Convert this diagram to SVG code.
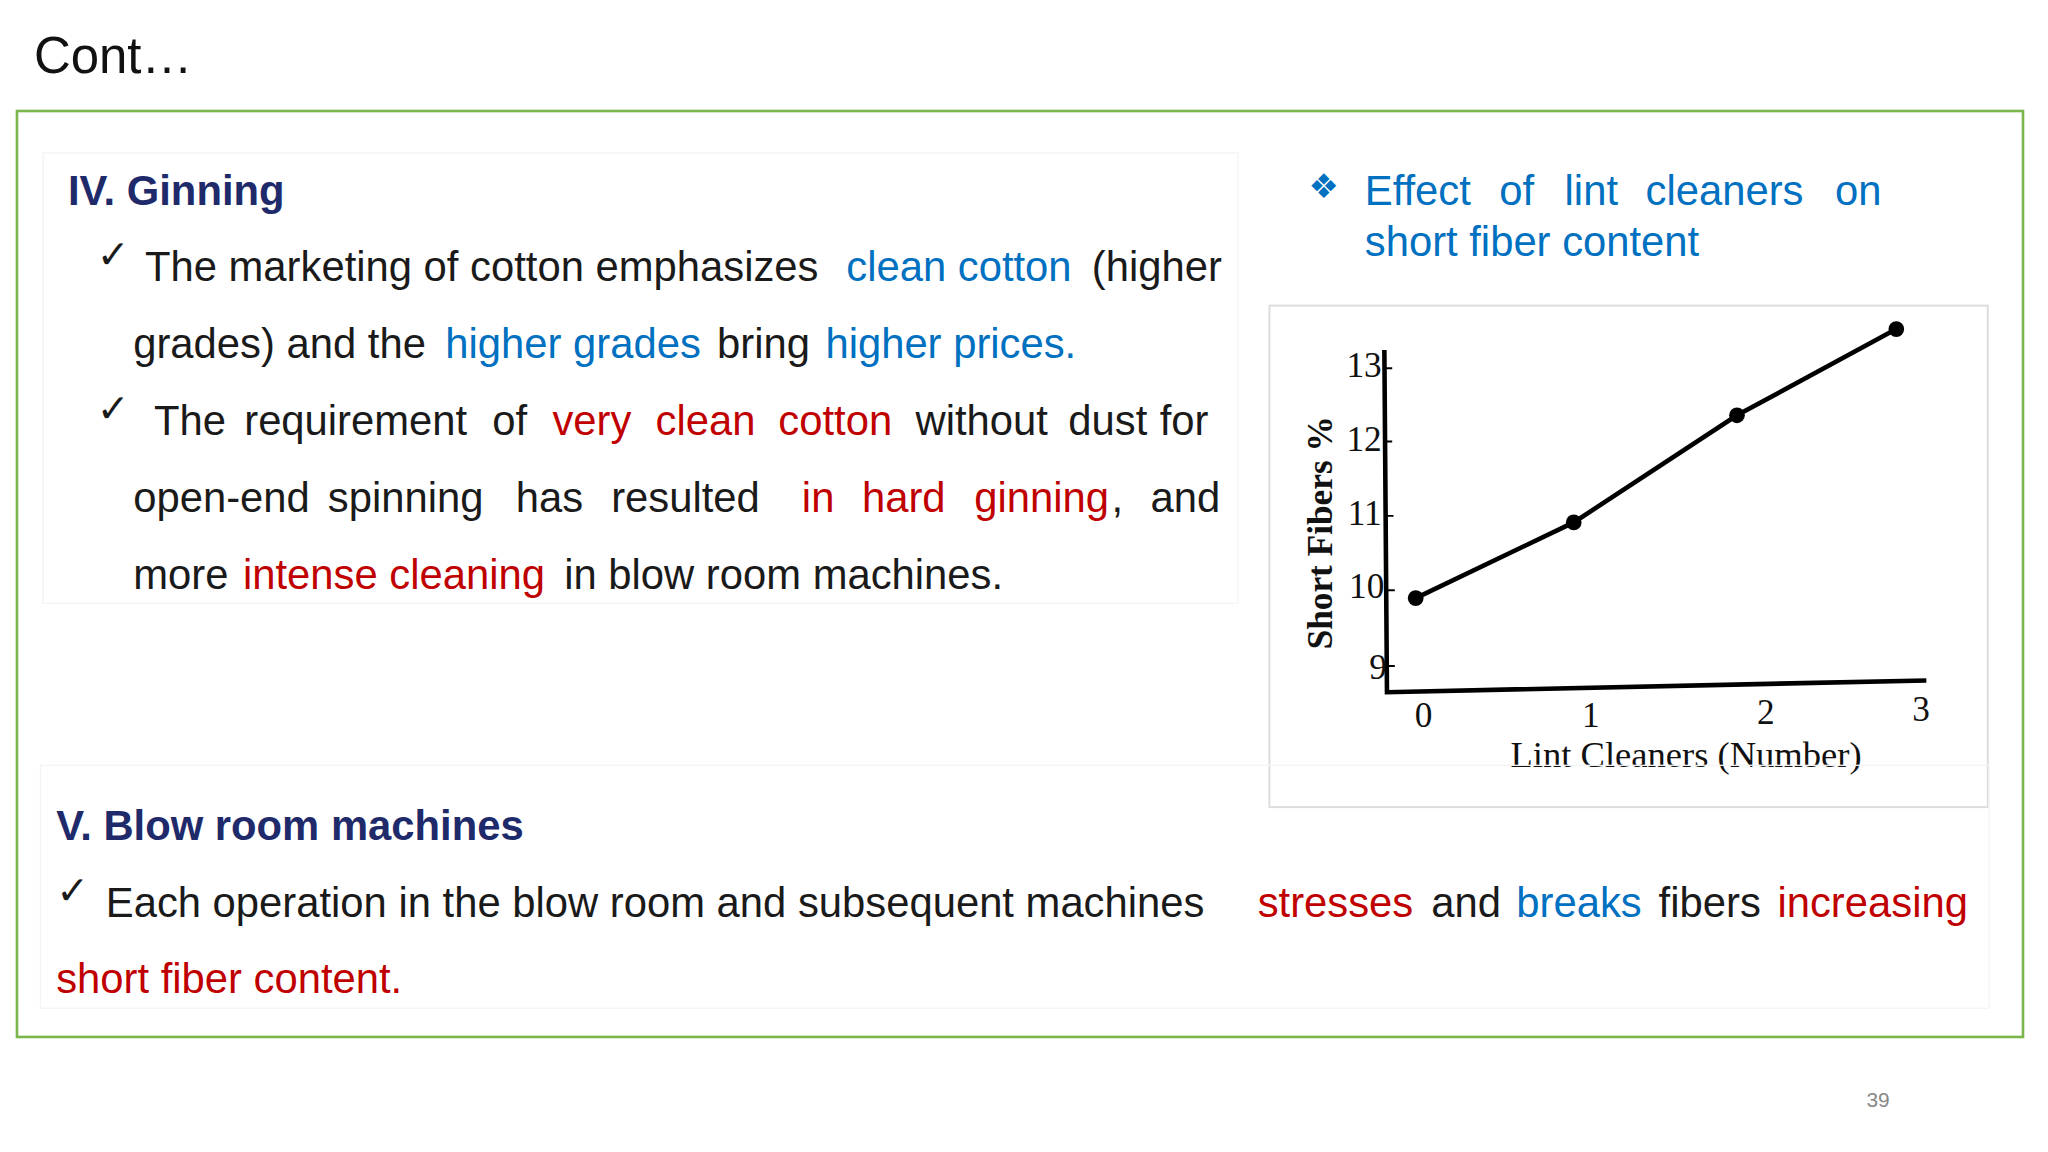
<svg xmlns="http://www.w3.org/2000/svg" width="2048" height="1152" viewBox="0 0 2048 1152">
<style>
.s{font-family:"Liberation Sans",Arial,sans-serif;font-size:32px;fill:#1a1a1a}
.b{fill:#0070C0}.r{fill:#C00000}
.h{font-family:"Liberation Sans",Arial,sans-serif;font-size:32px;font-weight:bold;fill:#1F2A6B}
.m{font-family:"DejaVu Sans",sans-serif;font-size:30px;fill:#1a1a1a}
.t{font-family:"Liberation Serif","Times New Roman",serif;font-size:27px;fill:#111}
</style>
<rect width="2048" height="1152" fill="#fff"/>
<g transform="scale(1.306)">
<text x="26" y="56" font-family="Liberation Sans,Arial,sans-serif" font-size="39" fill="#111">Cont…</text>
<rect x="13" y="85" width="1536" height="709" fill="none" stroke="#7ab648" stroke-width="2"/>
<g id="ginning">
<rect x="33" y="117" width="915" height="345" fill="none" stroke="#f4f4f4"/>
<text x="52" y="157" class="h">IV. Ginning</text>
<text x="74" y="205" class="m">✓</text>
<text x="74" y="323" class="m">✓</text>
<text class="s" y="215"><tspan x="111">The marketing of cotton emphasizes</tspan><tspan x="648" class="b">clean cotton</tspan><tspan x="836">(higher</tspan></text>
<text class="s" y="274"><tspan x="102">grades) and the</tspan><tspan x="341" class="b">higher grades</tspan><tspan x="549">bring</tspan><tspan x="632" class="b">higher prices.</tspan></text>
<text class="s" y="333"><tspan x="118">The</tspan><tspan x="187">requirement</tspan><tspan x="377">of</tspan><tspan x="423" class="r">very</tspan><tspan x="502" class="r">clean</tspan><tspan x="596" class="r">cotton</tspan><tspan x="701">without</tspan><tspan x="818">dust</tspan><tspan x="888">for</tspan></text>
<text class="s" y="392"><tspan x="102">open-end</tspan><tspan x="251">spinning</tspan><tspan x="395">has</tspan><tspan x="468">resulted</tspan><tspan x="614" class="r">in</tspan><tspan x="660" class="r">hard</tspan><tspan x="746" class="r">ginning</tspan><tspan x="851">,</tspan><tspan x="881">and</tspan></text>
<text class="s" y="451"><tspan x="102">more</tspan><tspan x="186" class="r">intense cleaning</tspan><tspan x="432">in blow room machines.</tspan></text>
</g>
<g id="chart-title">
<text x="1002" y="152" font-family="DejaVu Sans,sans-serif" font-size="26" fill="#0070C0">❖</text>
<text class="s b" y="157"><tspan x="1045">Effect</tspan><tspan x="1148">of</tspan><tspan x="1198">lint</tspan><tspan x="1260">cleaners</tspan><tspan x="1405">on</tspan></text>
<text class="s b" x="1045" y="196">short fiber content</text>
</g>
<g id="chart">
<rect x="972" y="234" width="550" height="384" fill="#fff" stroke="#ddd" stroke-width="1.5"/>
<path d="M1060 268 L1062 530 L1475 521" fill="none" stroke="#000" stroke-width="3.5"/>
<path d="M1060 282h6M1060 338h6M1061 395h6M1062 452h6M1062 510h6" stroke="#000" stroke-width="1.5"/>
<polyline points="1084,458 1205,400 1330,318 1452,252" fill="none" stroke="#000" stroke-width="3.5"/>
<g fill="#000"><circle cx="1084" cy="458" r="6"/><circle cx="1205" cy="400" r="6"/><circle cx="1330" cy="318" r="6"/><circle cx="1452" cy="252" r="6"/></g>
<g class="t" text-anchor="end"><text x="1058" y="289">13</text><text x="1058" y="345">12</text><text x="1058" y="402">11</text><text x="1060" y="458">10</text><text x="1062" y="520">9</text></g>
<g class="t" text-anchor="middle"><text x="1090" y="557">0</text><text x="1218" y="557">1</text><text x="1352" y="554">2</text><text x="1471" y="552">3</text>
<text x="1291" y="587" font-size="28">Lint Cleaners (Number)</text>
<text transform="translate(1020,408) rotate(-90)" font-weight="bold">Short Fibers %</text></g>
</g>
<g id="blowroom">
<rect x="31" y="586" width="1492" height="186" fill="none" stroke="#f4f4f4"/>
<text x="43" y="643" class="h">V. Blow room machines</text>
<text x="43" y="692" class="m">✓</text>
<text class="s" y="702"><tspan x="81">Each operation in the blow room and subsequent machines</tspan><tspan x="963" class="r">stresses</tspan><tspan x="1096">and</tspan><tspan x="1161" class="b">breaks</tspan><tspan x="1270">fibers</tspan><tspan x="1361" class="r">increasing</tspan></text>
<text class="s r" x="43" y="760">short fiber content.</text>
</g>
<text x="1438" y="848" font-family="Liberation Sans,Arial,sans-serif" font-size="16" fill="#888" text-anchor="middle">39</text>
</g>
</svg>
